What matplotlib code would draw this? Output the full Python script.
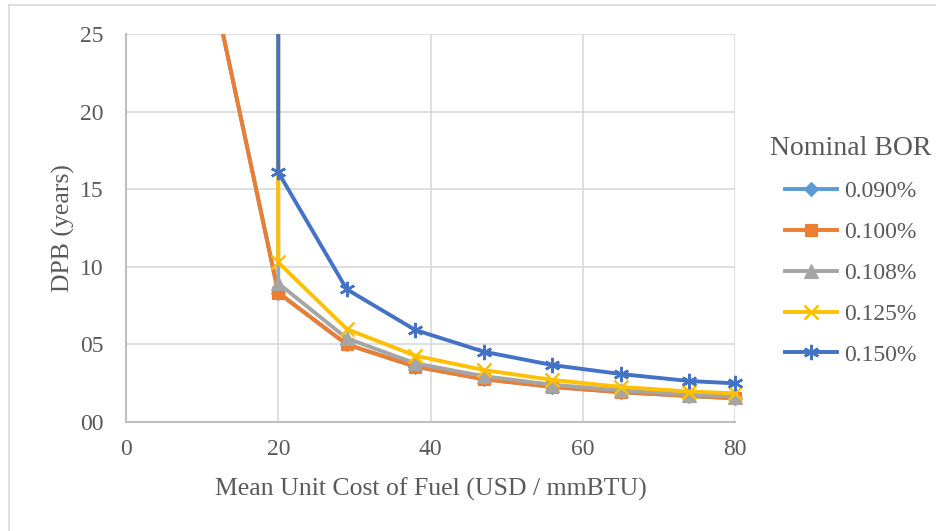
import matplotlib
matplotlib.use("Agg")
import matplotlib.pyplot as plt
from matplotlib.lines import Line2D
from matplotlib.patches import Rectangle

plt.rcParams["font.family"] = ["Liberation Serif", "DejaVu Serif"]

# Mean unit cost of fuel (USD / mmBTU) for each series
x_low = [11, 20, 29, 38, 47, 56, 65, 74, 80]
x_high = [20, 20, 29, 38, 47, 56, 65, 74, 80]

# Discounted payback (years) per nominal boil-off rate
dpb_090 = [29.0, 8.33, 5.00, 3.57, 2.76, 2.26, 1.92, 1.68, 1.53]
dpb_100 = [29.0, 8.33, 5.00, 3.57, 2.76, 2.26, 1.92, 1.68, 1.53]
dpb_108 = [45.0, 8.94, 5.39, 3.78, 2.95, 2.40, 2.04, 1.77, 1.63]
dpb_125 = [45.0, 10.29, 5.99, 4.27, 3.35, 2.71, 2.26, 1.96, 1.85]
dpb_150 = [45.0, 16.09, 8.55, 5.93, 4.53, 3.67, 3.09, 2.64, 2.49]

series_labels = ["0.090%", "0.100%", "0.108%", "0.125%", "0.150%"]
x_ticks = [0, 20, 40, 60, 80]
y_ticks = [0, 5, 10, 15, 20, 25]

text_color = "#595959"
grid_color = "#d9d9d9"

fig = plt.figure(figsize=(9.36, 5.31), dpi=100)
ax = fig.add_axes([126 / 936, 1 - 422 / 531, (735 - 126) / 936, (422 - 34) / 531])

# allow markers on the right boundary to show, but clip lines at the top
clip_rect = Rectangle((-0.05, -0.05), 1.1, 1.05, transform=ax.transAxes,
                      facecolor="none", edgecolor="none")
ax.add_patch(clip_rect)

styles = [
    (x_low, dpb_090, "#5B9BD5", "D", 7.5),
    (x_low, dpb_100, "#ED7D31", "s", 8.0),
    (x_high, dpb_108, "#A5A5A5", "^", 9.5),
    (x_high, dpb_125, "#FFC000", "x", 9.5),
    (x_high, dpb_150, "#4472C4", (6, 2, 0), 11.0),
]

handles = []
for (xs, ys, color, marker, ms), label in zip(styles, series_labels):
    line, = ax.plot(xs, ys, color=color, lw=2.8, marker=marker, markersize=ms,
                    markerfacecolor=color, markeredgecolor=color,
                    markeredgewidth=1.8 if marker in ("x", (6, 2, 0)) else 0.8,
                    label=label, solid_joinstyle="round")
    line.set_clip_path(clip_rect)
    handles.append(line)

ax.set_xlim(0, 80)
ax.set_ylim(0, 25)
ax.set_xticks(x_ticks)
ax.set_yticks(y_ticks)
ax.set_yticklabels([f"{v:02d}" for v in y_ticks])
ax.tick_params(axis="both", length=0, labelsize=17, colors=text_color)
ax.tick_params(axis="x", pad=12)
ax.tick_params(axis="y", pad=16)

ax.grid(True, color=grid_color, lw=1.2)
ax.set_axisbelow(True)
for side in ("top", "right"):
    ax.spines[side].set_visible(False)
for side in ("left", "bottom"):
    ax.spines[side].set_color("#bfbfbf")
    ax.spines[side].set_linewidth(1.5)

ax.set_xlabel("Mean Unit Cost of Fuel (USD / mmBTU)", fontsize=18.5,
              color=text_color, labelpad=13)
ax.set_ylabel("DPB (years)", fontsize=18.5, color=text_color, labelpad=4)

leg = fig.legend(handles=handles, title="Nominal BOR", loc="upper left",
                 bbox_to_anchor=(749 / 936, 1 - 115 / 531), frameon=False,
                 fontsize=17, title_fontsize=20, handlelength=2.2,
                 handletextpad=0.3, labelspacing=0.82)
leg.get_title().set_color(text_color)
for t in leg.get_texts():
    t.set_color(text_color)

# outer chart frame (left and top edges)
fx = 8.5 / 936
fy = 1 - 5 / 531
fig.add_artist(Line2D([fx, fx], [0, fy], transform=fig.transFigure,
                      color=grid_color, lw=1.2))
fig.add_artist(Line2D([fx, 1], [fy, fy], transform=fig.transFigure,
                      color=grid_color, lw=1.2))

fig.savefig("out.png", dpi=100)
